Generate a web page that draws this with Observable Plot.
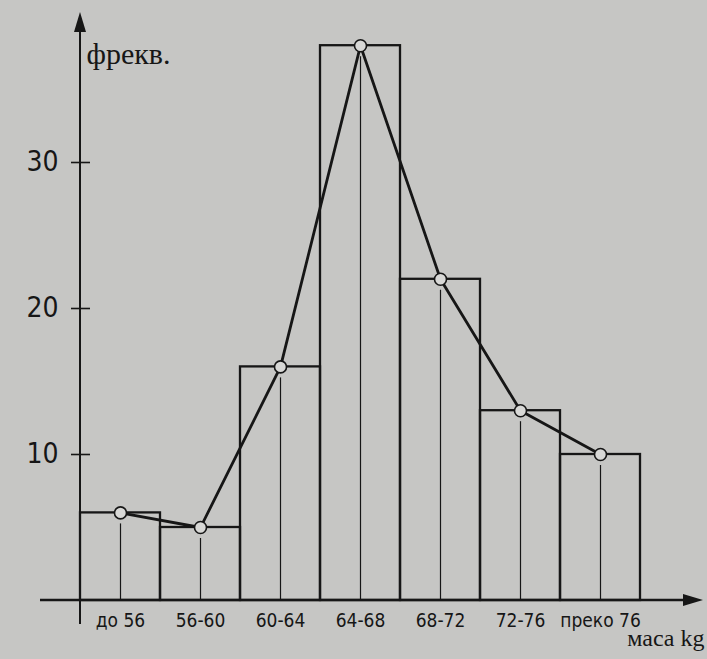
<!DOCTYPE html>
<html>
<head>
<meta charset="utf-8">
<script src="https://cdn.jsdelivr.net/npm/d3@7"></script>
<script src="https://cdn.jsdelivr.net/npm/@observablehq/plot@0.6"></script>
<style>
  html, body { margin: 0; padding: 0; background: #c6c6c4; }
  #chart { width: 707px; height: 659px; }
</style>
</head>
<body>
<div id="chart"></div>
<script>
const categories = ["до 56", "56-60", "60-64", "64-68", "68-72", "72-76", "преко 76"];
const frequencies = [6, 5, 16, 38, 22, 13, 10];
const yTicks = [10, 20, 30];
const yLabel = "фрекв.";
const xLabel = "маса kg";

const data = categories.map((c, i) => ({c, i, f: frequencies[i]}));
const center = d => d.i + 0.5;
const ink = "#161616";
const condensed = "'DejaVu Sans Condensed', 'DejaVu Sans', sans-serif";
const serif = "'Liberation Serif', 'DejaVu Serif', serif";

const axes = (index, scales, values, dims) => {
  const {x, y} = scales;
  const x0 = x(0), y0 = y(0), yTop = y(40);
  const g = d3.create("svg:g").attr("stroke", ink).attr("fill", ink);
  g.append("line")
    .attr("x1", x0 - 40).attr("x2", dims.width - 14)
    .attr("y1", y0).attr("y2", y0).attr("stroke-width", 2.4);
  g.append("path").attr("stroke", "none")
    .attr("d", `M${dims.width - 4},${y0} l-20,-6 v12 z`);
  g.append("line")
    .attr("x1", x0).attr("x2", x0)
    .attr("y1", y0 + 24).attr("y2", yTop + 10).attr("stroke-width", 2);
  g.append("path").attr("stroke", "none")
    .attr("d", `M${x0},${yTop - 4} l-6,20 h12 z`);
  return g.node();
};

const chart = Plot.plot({
  width: 707,
  height: 659,
  marginLeft: 80,
  marginRight: 67,
  marginTop: 16,
  marginBottom: 59,
  x: {domain: [0, categories.length], axis: null},
  y: {domain: [0, 40], axis: null},
  style: {background: "#c6c6c4", color: ink},
  marks: [
    Plot.rectY(data, {x1: "i", x2: d => d.i + 1, y: "f", fill: "none", stroke: ink, strokeWidth: 2.3}),
    Plot.ruleX(data, {x: center, y1: 0, y2: "f", stroke: ink, strokeWidth: 1.2, insetBottom: -11}),
    Plot.line(data, {x: center, y: "f", stroke: ink, strokeWidth: 2.8}),
    Plot.dot(data, {x: center, y: "f", r: 6, fill: "#d8d8d6", stroke: ink, strokeWidth: 1.6}),
    axes,
    Plot.ruleY(yTicks, {y: d => d, x1: 0, x2: 0, insetLeft: -9, insetRight: -10, stroke: ink, strokeWidth: 1.6}),
    Plot.text(yTicks, {x: 0, y: d => d, text: d => String(d), dx: -22, textAnchor: "end", fontSize: 28, fontFamily: condensed, fill: ink}),
    Plot.text(data, {x: center, y: 0, text: "c", dy: 20, fontSize: 19, fontFamily: condensed, fill: ink}),
    Plot.text([yLabel], {frameAnchor: "top-left", text: d => d, dx: 6, dy: 26, textAnchor: "start", fontSize: 30, fontFamily: serif, fill: ink}),
    Plot.text([xLabel], {frameAnchor: "bottom-right", text: d => d, dx: 64, dy: 45, textAnchor: "end", fontSize: 24, fontFamily: serif, fill: ink})
  ]
});
document.getElementById("chart").appendChild(chart);
</script>
</body>
</html>
